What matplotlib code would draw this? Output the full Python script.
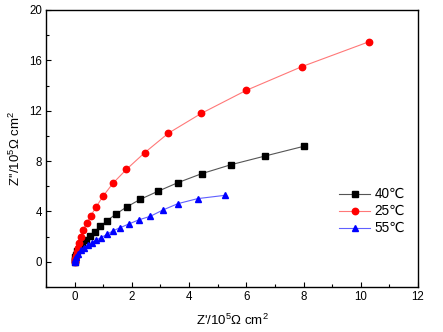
import matplotlib
matplotlib.use("Agg")
import matplotlib.pyplot as plt
from matplotlib.ticker import MultipleLocator

plt.rcParams['font.family'] = ['Liberation Sans', 'DejaVu Sans']
plt.rcParams['mathtext.fontset'] = 'custom'
plt.rcParams['mathtext.rm'] = 'Liberation Sans'
plt.rcParams['mathtext.it'] = 'Liberation Sans'

# 40 ℃ (black squares)
x40 = [0.0, 0.01, 0.03, 0.06, 0.10, 0.15, 0.20, 0.27, 0.385, 0.53, 0.70, 0.90, 1.14, 1.45,
       1.82, 2.30, 2.91, 3.61, 4.44, 5.46, 6.65, 8.00]
y40 = [0.0, 0.15, 0.35, 0.58, 0.82, 1.05, 1.22, 1.43, 1.72, 2.03, 2.40, 2.83, 3.28, 3.80,
       4.36, 4.97, 5.60, 6.29, 7.00, 7.71, 8.40, 9.17]

# 25 ℃ (red circles)
x25 = [0.0, 0.005, 0.02, 0.04, 0.07, 0.11, 0.16, 0.22, 0.30, 0.42, 0.57, 0.76, 1.00, 1.34,
       1.81, 2.45, 3.28, 4.42, 5.99, 7.95, 10.30]
y25 = [0.0, 0.08, 0.25, 0.48, 0.78, 1.12, 1.52, 1.98, 2.54, 3.09, 3.67, 4.39, 5.23, 6.24,
       7.34, 8.67, 10.22, 11.78, 13.61, 15.51, 17.49]

# 55 ℃ (blue triangles)
x55 = [0.0, 0.01, 0.03, 0.06, 0.13, 0.22, 0.33, 0.46, 0.60, 0.76, 0.93, 1.12, 1.34, 1.60,
       1.90, 2.24, 2.65, 3.09, 3.61, 4.30, 5.25]
y55 = [0.0, 0.10, 0.20, 0.40, 0.66, 0.90, 1.11, 1.32, 1.53, 1.74, 1.93, 2.17, 2.46, 2.72,
       3.01, 3.33, 3.62, 4.12, 4.62, 5.02, 5.28]

labels = ['40℃', '25℃', '55℃']
xticks = [0, 2, 4, 6, 8, 10, 12]
yticks = [0, 4, 8, 12, 16, 20]

fig = plt.figure(figsize=(4.43, 3.32), dpi=100)
ax = fig.add_axes([46/443, 45/332, 372/443, 277/332])

ax.plot(x40, y40, color='#555555', lw=0.8, marker='s', ms=4.2, mfc='black', mec='black',
        label=labels[0])
ax.plot(x25, y25, color='#ff7878', lw=0.8, marker='o', ms=4.6, mfc='red', mec='red',
        label=labels[1])
ax.plot(x55, y55, color='#6060ff', lw=0.8, marker='^', ms=4.6, mfc='blue', mec='blue',
        label=labels[2])

ax.set_xlim(-1, 12)
ax.set_ylim(-2, 20)
ax.set_xticks(xticks)
ax.set_yticks(yticks)
ax.xaxis.set_minor_locator(MultipleLocator(1))
ax.yaxis.set_minor_locator(MultipleLocator(2))
ax.tick_params(which='both', direction='in', top=False, right=False, labelsize=8.3,
               width=0.8, pad=3)
ax.tick_params(which='major', length=3.5)
ax.tick_params(which='minor', length=2)
for s in ax.spines.values():
    s.set_linewidth(1.0)

ax.set_xlabel("Z'/10$^5$Ω cm$^2$", fontsize=9.5, labelpad=7)
ax.set_ylabel("Z''/10$^5$Ω cm$^2$", fontsize=9.5, labelpad=4)

leg = ax.legend(loc='upper left', bbox_to_anchor=(0.788, 0.36), frameon=False,
                fontsize=9.8, handlelength=2.3, handletextpad=0.3, labelspacing=0.22,
                borderpad=0, borderaxespad=0)

fig.savefig('out.png', dpi=100)
